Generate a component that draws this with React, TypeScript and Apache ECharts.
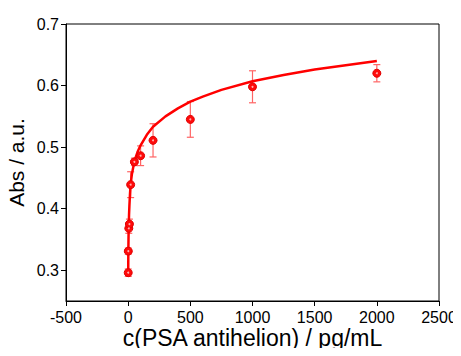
import React, { useEffect, useRef } from "react";
import * as echarts from "echarts";

// concentration (pg/mL)
const concentrations = [0.5, 1, 5, 10, 20, 50, 100, 200, 500, 1000, 2000];
// absorbance
const absValues = [0.296, 0.331, 0.368, 0.375, 0.439, 0.476, 0.486, 0.511, 0.545, 0.598, 0.62];
// error (±)
const absErrors = [0.006, 0.005, 0.008, 0.008, 0.021, 0.006, 0.016, 0.027, 0.029, 0.026, 0.014];

// fitted curve
const fitX = [0.5, 1, 2, 3, 5, 7, 10, 15, 20, 30, 50, 75, 100, 150, 200, 300, 400, 500, 600, 750, 1000, 1250, 1500, 1750, 2000];
const fitY = [0.296, 0.32, 0.34, 0.355, 0.372, 0.39, 0.405, 0.425, 0.44, 0.456, 0.477, 0.492, 0.503, 0.52, 0.533, 0.55, 0.563, 0.574, 0.582, 0.593, 0.607, 0.617, 0.626, 0.633, 0.64];

const xTicks = [-500, 0, 500, 1000, 1500, 2000, 2500];
const yTicks = [0.3, 0.4, 0.5, 0.6, 0.7];

const FONT = "Liberation Sans, Arial, sans-serif";

export default function App() {
  const ref = useRef<HTMLDivElement>(null);
  useEffect(() => {
    if (!ref.current) return;
    const chart = echarts.init(ref.current, undefined, { renderer: "svg" });
    const points = concentrations.map((c, i) => [c, absValues[i]]);
    const errs = concentrations.map((c, i) => [c, absValues[i] - absErrors[i], absValues[i] + absErrors[i]]);
    const fit = fitX.map((x, i) => [x, fitY[i]]);
    chart.setOption({
      animation: false,
      grid: {
        left: 66,
        right: 22,
        top: 24,
        bottom: 55,
        show: true,
        borderColor: "#000",
        borderWidth: 1,
        backgroundColor: "transparent",
        containLabel: false,
        outerBoundsMode: "none",
      },
      xAxis: {
        type: "value",
        min: xTicks[0],
        max: xTicks[xTicks.length - 1],
        interval: 500,
        name: "c(PSA antihelion) / pg/mL",
        nameLocation: "middle",
        nameGap: 25,
        nameMoveOverlap: false,
        nameTextStyle: { fontFamily: FONT, fontSize: 23, color: "#000" },
        axisLine: { show: true, onZero: false, lineStyle: { color: "#000", width: 1 } },
        axisTick: { show: true, length: 5, lineStyle: { color: "#000" } },
        axisLabel: {
          fontFamily: FONT,
          fontSize: 16,
          color: "#000",
          margin: 8,
          formatter: (v: number) => String(v),
        },
        splitLine: { show: false },
      },
      yAxis: {
        type: "value",
        min: 0.25,
        max: 0.7,
        axisLabel: {
          fontFamily: FONT,
          fontSize: 16,
          color: "#000",
          margin: 7,
          customValues: yTicks,
          formatter: (v: number) => v.toFixed(1),
        },
        name: "Abs / a.u.",
        nameLocation: "middle",
        nameGap: 39,
        nameMoveOverlap: false,
        nameTextStyle: { fontFamily: FONT, fontSize: 21, color: "#000" },
        axisLine: { show: true, onZero: false, lineStyle: { color: "#000", width: 1 } },
        axisTick: { show: true, length: 5, customValues: yTicks, lineStyle: { color: "#000" } },
        splitLine: { show: false },
      },
      series: [
        {
          type: "line",
          data: fit,
          smooth: false,
          showSymbol: false,
          lineStyle: { color: "#ff0000", width: 2.5 },
          z: 3,
        },
        {
          type: "custom",
          data: errs,
          z: 2,
          renderItem: (params: any, api: any) => {
            const x = api.value(0);
            const lo = api.coord([x, api.value(1)]);
            const hi = api.coord([x, api.value(2)]);
            const w = 3.5;
            const style = { stroke: "#ff6464", lineWidth: 1.2 };
            return {
              type: "group",
              children: [
                { type: "line", shape: { x1: lo[0], y1: lo[1], x2: hi[0], y2: hi[1] }, style },
                { type: "line", shape: { x1: lo[0] - w, y1: lo[1], x2: lo[0] + w, y2: lo[1] }, style },
                { type: "line", shape: { x1: hi[0] - w, y1: hi[1], x2: hi[0] + w, y2: hi[1] }, style },
              ],
            };
          },
        },
        {
          type: "scatter",
          data: points,
          symbol: "circle",
          symbolSize: 8,
          itemStyle: { color: "#ff0a0a", borderColor: "#e00000", borderWidth: 1, opacity: 1 },
          z: 4,
        },
        {
          type: "scatter",
          data: points,
          symbol: "circle",
          symbolSize: 2,
          silent: true,
          itemStyle: { color: "#ffb0b0", opacity: 1 },
          z: 5,
        },
      ],
    });
    return () => chart.dispose();
  }, []);
  return <div ref={ref} style={{ width: 461, height: 356, margin: -8 }} />;
}
